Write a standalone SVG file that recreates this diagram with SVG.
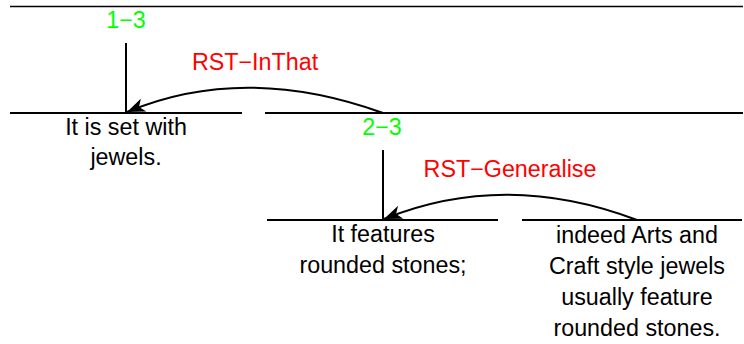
<svg xmlns="http://www.w3.org/2000/svg" width="744" height="344" viewBox="0 0 744 344">
  <style>
    .t { font-family: "Liberation Sans", Arial, sans-serif; font-size: 23.3px; text-anchor: middle; fill: #000; }
    .span { fill: #00ff00; }
    .rel { fill: #ff0000; }
    .bar { stroke: #000; stroke-width: 2; fill: none; }
    .arc { stroke: #000; stroke-width: 2; fill: none; marker-end: url(#ah); }
  </style>
  <defs>
    <marker id="ah" markerWidth="20" markerHeight="14" refX="18" refY="7" orient="auto" markerUnits="userSpaceOnUse">
      <path d="M0,0 L18,7 L0,14 L5,7 Z" fill="#000"/>
    </marker>
  </defs>
  <rect width="744" height="344" fill="#fff"/>
  <line x1="10" y1="6.5" x2="743" y2="6.5" stroke="#000" stroke-width="1.5"/>

  <g id="span-1-3">
    <text class="t span" x="126" y="28">1−3</text>
    <line class="bar" x1="126" y1="43" x2="126" y2="113"/>
  </g>
  <g id="seg-1">
    <line class="bar" x1="10" y1="113" x2="242" y2="113"/>
    <text class="t" x="126" y="135">It is set with</text>
    <text class="t" x="126" y="165">jewels.</text>
  </g>
  <g id="span-2-3">
    <line class="bar" x1="265" y1="113" x2="743" y2="113"/>
    <text class="t span" x="382" y="135">2−3</text>
    <line class="bar" x1="383" y1="150" x2="383" y2="220"/>
  </g>
  <g id="seg-2">
    <line class="bar" x1="267" y1="220" x2="498" y2="220"/>
    <text class="t" x="383" y="242">It features</text>
    <text class="t" x="383" y="273">rounded stones;</text>
  </g>
  <g id="seg-3">
    <line class="bar" x1="522" y1="220" x2="742" y2="220"/>
    <text class="t" x="637" y="243">indeed Arts and</text>
    <text class="t" x="637" y="274">Craft style jewels</text>
    <text class="t" x="637" y="305">usually feature</text>
    <text class="t" x="637" y="336">rounded stones.</text>
  </g>

  <g id="connectors">
    <path class="arc" d="M383,113 Q244,63 127,112"/>
    <text class="t rel" x="255" y="70">RST−InThat</text>
    <path class="arc" d="M637,220 Q505,170 384,219"/>
    <text class="t rel" x="510" y="177">RST−Generalise</text>
  </g>
</svg>
